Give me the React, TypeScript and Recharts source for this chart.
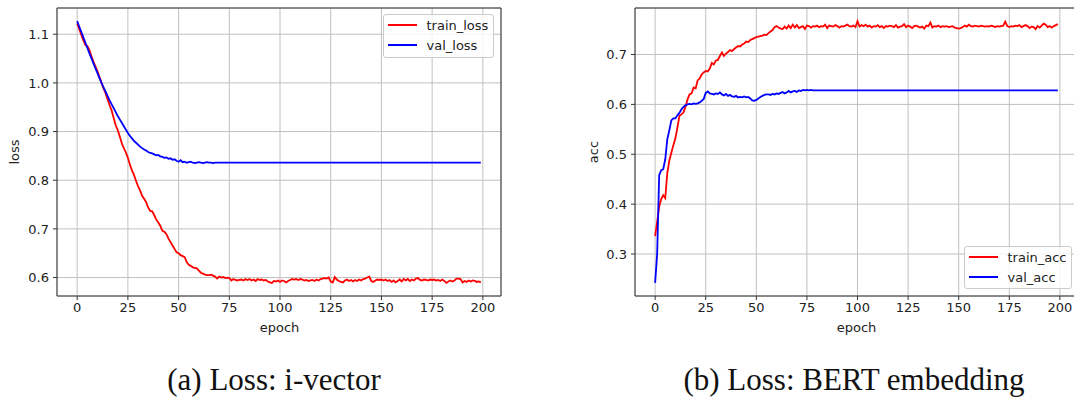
import React from 'react';
import { LineChart, Line, XAxis, YAxis, CartesianGrid, Legend, ReferenceArea } from 'recharts';

// epochs 0..199
const epochs: number[] = Array.from({ length: 200 }, (_, i) => i);

const trainLoss = [
  1.122, 1.111, 1.099, 1.088, 1.078, 1.076, 1.068, 1.055, 1.044, 1.034,
  1.024, 1.012, 1.000, 0.988, 0.979, 0.966, 0.954, 0.943, 0.928, 0.913,
  0.903, 0.890, 0.876, 0.866, 0.857, 0.846, 0.832, 0.820, 0.811, 0.799,
  0.788, 0.779, 0.768, 0.762, 0.755, 0.744, 0.737, 0.736, 0.728, 0.719,
  0.713, 0.706, 0.696, 0.694, 0.689, 0.680, 0.673, 0.666, 0.659, 0.652,
  0.650, 0.646, 0.644, 0.642, 0.632, 0.626, 0.624, 0.621, 0.620, 0.619,
  0.614, 0.610, 0.608, 0.606, 0.605, 0.605, 0.606, 0.604, 0.602, 0.598,
  0.602, 0.600, 0.601, 0.599, 0.600, 0.599, 0.594, 0.597, 0.595, 0.594,
  0.595, 0.596, 0.594, 0.597, 0.595, 0.597, 0.594, 0.596, 0.593, 0.597,
  0.595, 0.596, 0.594, 0.595, 0.592, 0.590, 0.589, 0.593, 0.592, 0.594,
  0.591, 0.594, 0.593, 0.590, 0.593, 0.595, 0.597, 0.596, 0.597, 0.595,
  0.597, 0.596, 0.594, 0.595, 0.593, 0.594, 0.595, 0.593, 0.596, 0.594,
  0.597, 0.598, 0.599, 0.598, 0.600, 0.592, 0.590, 0.601, 0.596, 0.593,
  0.591, 0.590, 0.594, 0.596, 0.593, 0.595, 0.592, 0.595, 0.593, 0.596,
  0.594, 0.597, 0.598, 0.600, 0.602, 0.593, 0.591, 0.594, 0.596, 0.595,
  0.596, 0.594, 0.596, 0.593, 0.595, 0.591, 0.594, 0.590, 0.593, 0.596,
  0.592, 0.597, 0.594, 0.597, 0.593, 0.596, 0.594, 0.598, 0.599, 0.595,
  0.594, 0.596, 0.595, 0.594, 0.596, 0.595, 0.596, 0.594, 0.595, 0.593,
  0.596, 0.593, 0.589, 0.592, 0.594, 0.592, 0.594, 0.598, 0.598, 0.597,
  0.590, 0.593, 0.591, 0.594, 0.592, 0.594, 0.593, 0.591, 0.592, 0.590,
];

const valLoss = [
  1.127, 1.116, 1.105, 1.094, 1.083, 1.072, 1.061, 1.051, 1.040, 1.030,
  1.020, 1.010, 1.000, 0.991, 0.982, 0.973, 0.964, 0.956, 0.948, 0.940,
  0.932, 0.925, 0.918, 0.911, 0.904, 0.897, 0.891, 0.886, 0.881, 0.877,
  0.873, 0.869, 0.866, 0.863, 0.861, 0.858, 0.856, 0.855, 0.853, 0.851,
  0.852, 0.849, 0.848, 0.846, 0.847, 0.844, 0.845, 0.842, 0.843, 0.840,
  0.838, 0.841, 0.837, 0.838, 0.836, 0.837, 0.838, 0.836, 0.835, 0.836,
  0.837, 0.836, 0.835, 0.836, 0.837, 0.836, 0.836, 0.835, 0.836, 0.836,
  0.836, 0.836, 0.836, 0.836, 0.836, 0.836, 0.836, 0.836, 0.836, 0.836,
  0.836, 0.836, 0.836, 0.836, 0.836, 0.836, 0.836, 0.836, 0.836, 0.836,
  0.836, 0.836, 0.836, 0.836, 0.836, 0.836, 0.836, 0.836, 0.836, 0.836,
  0.836, 0.836, 0.836, 0.836, 0.836, 0.836, 0.836, 0.836, 0.836, 0.836,
  0.836, 0.836, 0.836, 0.836, 0.836, 0.836, 0.836, 0.836, 0.836, 0.836,
  0.836, 0.836, 0.836, 0.836, 0.836, 0.836, 0.836, 0.836, 0.836, 0.836,
  0.836, 0.836, 0.836, 0.836, 0.836, 0.836, 0.836, 0.836, 0.836, 0.836,
  0.836, 0.836, 0.836, 0.836, 0.836, 0.836, 0.836, 0.836, 0.836, 0.836,
  0.836, 0.836, 0.836, 0.836, 0.836, 0.836, 0.836, 0.836, 0.836, 0.836,
  0.836, 0.836, 0.836, 0.836, 0.836, 0.836, 0.836, 0.836, 0.836, 0.836,
  0.836, 0.836, 0.836, 0.836, 0.836, 0.836, 0.836, 0.836, 0.836, 0.836,
  0.836, 0.836, 0.836, 0.836, 0.836, 0.836, 0.836, 0.836, 0.836, 0.836,
  0.836, 0.836, 0.836, 0.836, 0.836, 0.836, 0.836, 0.836, 0.836, 0.836,
];

const trainAcc = [
  0.336, 0.365, 0.395, 0.410, 0.418, 0.412, 0.462, 0.487, 0.503, 0.518,
  0.532, 0.553, 0.577, 0.580, 0.584, 0.595, 0.610, 0.620, 0.622, 0.634,
  0.632, 0.648, 0.652, 0.660, 0.664, 0.667, 0.666, 0.672, 0.683, 0.680,
  0.688, 0.689, 0.697, 0.704, 0.697, 0.702, 0.705, 0.709, 0.707, 0.711,
  0.714, 0.717, 0.716, 0.720, 0.722, 0.726, 0.725, 0.729, 0.731, 0.733,
  0.735, 0.736, 0.737, 0.738, 0.740, 0.739, 0.743, 0.746, 0.749, 0.755,
  0.757, 0.754, 0.752, 0.751, 0.756, 0.752, 0.758, 0.753, 0.760, 0.754,
  0.759, 0.753, 0.755, 0.757, 0.751, 0.758, 0.757, 0.754, 0.757, 0.756,
  0.758, 0.755, 0.757, 0.756, 0.760, 0.753, 0.758, 0.757, 0.756, 0.759,
  0.757, 0.754, 0.757, 0.756, 0.758, 0.760, 0.757, 0.756, 0.758, 0.755,
  0.767, 0.756, 0.759, 0.757, 0.760, 0.756, 0.758, 0.754, 0.757, 0.756,
  0.759, 0.755, 0.757, 0.753, 0.757, 0.756, 0.758, 0.757, 0.755, 0.759,
  0.754, 0.756, 0.757, 0.761, 0.755, 0.758, 0.756, 0.753, 0.757, 0.758,
  0.756, 0.754, 0.756, 0.752, 0.758, 0.757, 0.764, 0.754, 0.757, 0.756,
  0.758, 0.755, 0.757, 0.756, 0.757, 0.755, 0.756, 0.757, 0.754, 0.753,
  0.752, 0.753, 0.755, 0.758, 0.756, 0.760, 0.757, 0.756, 0.758, 0.757,
  0.756, 0.758, 0.757, 0.756, 0.757, 0.756, 0.758, 0.757, 0.755, 0.757,
  0.756, 0.757, 0.758, 0.766, 0.757, 0.755, 0.757, 0.756, 0.758, 0.757,
  0.759, 0.755, 0.757, 0.759, 0.757, 0.753, 0.756, 0.755, 0.751, 0.757,
  0.754, 0.758, 0.762, 0.760, 0.755, 0.757, 0.754, 0.757, 0.759, 0.761,
];

const valAcc = [
  0.242, 0.300, 0.458, 0.468, 0.470, 0.490, 0.530, 0.548, 0.568, 0.572,
  0.572, 0.578, 0.583, 0.590, 0.595, 0.598, 0.600, 0.601, 0.600, 0.602,
  0.601, 0.602, 0.604, 0.607, 0.611, 0.623, 0.626, 0.622, 0.621, 0.620,
  0.622, 0.621, 0.624, 0.620, 0.618, 0.621, 0.617, 0.619, 0.616, 0.615,
  0.617, 0.614, 0.615, 0.614, 0.616, 0.614, 0.615, 0.612, 0.608, 0.607,
  0.609, 0.612, 0.615, 0.617, 0.619, 0.620, 0.620, 0.619, 0.621, 0.620,
  0.622, 0.621, 0.623, 0.625, 0.622, 0.624, 0.627, 0.624, 0.626, 0.627,
  0.625, 0.628, 0.627, 0.629, 0.628, 0.629, 0.628, 0.629, 0.628, 0.628,
  0.628, 0.628, 0.628, 0.628, 0.628, 0.628, 0.628, 0.628, 0.628, 0.628,
  0.628, 0.628, 0.628, 0.628, 0.628, 0.628, 0.628, 0.628, 0.628, 0.628,
  0.628, 0.628, 0.628, 0.628, 0.628, 0.628, 0.628, 0.628, 0.628, 0.628,
  0.628, 0.628, 0.628, 0.628, 0.628, 0.628, 0.628, 0.628, 0.628, 0.628,
  0.628, 0.628, 0.628, 0.628, 0.628, 0.628, 0.628, 0.628, 0.628, 0.628,
  0.628, 0.628, 0.628, 0.628, 0.628, 0.628, 0.628, 0.628, 0.628, 0.628,
  0.628, 0.628, 0.628, 0.628, 0.628, 0.628, 0.628, 0.628, 0.628, 0.628,
  0.628, 0.628, 0.628, 0.628, 0.628, 0.628, 0.628, 0.628, 0.628, 0.628,
  0.628, 0.628, 0.628, 0.628, 0.628, 0.628, 0.628, 0.628, 0.628, 0.628,
  0.628, 0.628, 0.628, 0.628, 0.628, 0.628, 0.628, 0.628, 0.628, 0.628,
  0.628, 0.628, 0.628, 0.628, 0.628, 0.628, 0.628, 0.628, 0.628, 0.628,
  0.628, 0.628, 0.628, 0.628, 0.628, 0.628, 0.628, 0.628, 0.628, 0.628,
];

const epochTicks = [0, 25, 50, 75, 100, 125, 150, 175, 200];
const lossTicks = [0.6, 0.7, 0.8, 0.9, 1.0, 1.1];
const accTicks = [0.3, 0.4, 0.5, 0.6, 0.7];

const xDomain: [number, number] = [-9.95, 208.95];
const lossDomain: [number, number] = [0.5621, 1.1539];
const accDomain: [number, number] = [0.2158, 0.7933];

const RED = '#ff0000';
const BLUE = '#0000ff';
const seriesColor: Record<string, string> = {
  train_loss: RED,
  val_loss: BLUE,
  train_acc: RED,
  val_acc: BLUE,
};

const lossData = epochs.map((e, i) => ({ epoch: e, train_loss: trainLoss[i], val_loss: valLoss[i] }));
const accData = epochs.map((e, i) => ({ epoch: e, train_acc: trainAcc[i], val_acc: valAcc[i] }));

const SANS = '"DejaVu Sans", sans-serif';
const tickStyle = { fontFamily: SANS, fontSize: 13, fill: '#222' };

const MplLegend = ({ payload }: any) => (
  <div
    style={{
      background: 'rgba(255,255,255,0.8)',
      border: '1px solid #cccccc',
      borderRadius: 3,
      boxSizing: 'border-box',
      height: '100%',
    }}
  >
    {(payload || []).map((p: any) => (
      <div key={p.value} style={{ display: 'flex', alignItems: 'center', height: 20 }}>
        <span style={{ display: 'inline-block', width: 29, borderTop: `2px solid ${seriesColor[p.value] || p.color}`, marginLeft: 4, marginRight: 9.5 }} />
        <span style={{ fontFamily: SANS, fontSize: 13, color: '#222', lineHeight: '15px' }}>{p.value}</span>
      </div>
    ))}
  </div>
);

const textAbs = (x: number, y: number, rotate = false): React.CSSProperties => ({
  position: 'absolute',
  left: x - 60,
  top: y - 8,
  width: 120,
  height: 16,
  lineHeight: '16px',
  textAlign: 'center',
  fontFamily: SANS,
  fontSize: 13,
  color: '#222',
  transform: rotate ? 'rotate(-90deg)' : undefined,
});

const captionStyle = (cx: number): React.CSSProperties => ({
  position: 'absolute',
  left: cx - 250,
  top: 362,
  width: 500,
  textAlign: 'center',
  fontFamily: '"Liberation Serif", serif',
  fontSize: 31,
  lineHeight: '36px',
  color: '#111',
});

export default function App() {
  return (
    <div style={{ position: 'absolute', left: 0, top: 0, width: 1074, height: 401, overflow: 'hidden', background: '#fff' }}>
      <div style={{ position: 'absolute', left: 0, top: 0 }}>
        <LineChart width={520} height={340} data={lossData} margin={{ top: 8, right: 19, bottom: 0, left: 0 }}>
          <CartesianGrid stroke="#c0c0c0" strokeWidth={1} />
          <XAxis dataKey="epoch" type="number" domain={xDomain} ticks={epochTicks} interval={0} height={44}
            axisLine={false} tickSize={4} tickMargin={3} stroke="#333" tick={tickStyle} />
          <YAxis type="number" domain={lossDomain} ticks={lossTicks} interval={0} width={57}
            axisLine={false} tickSize={4} tickMargin={4} stroke="#333" tick={tickStyle}
            tickFormatter={(v: number) => v.toFixed(1)} />
          <Line dataKey="train_loss" name="train_loss" stroke={RED} strokeWidth={1.8} dot={false} isAnimationActive={false} />
          <Line dataKey="val_loss" name="val_loss" stroke={BLUE} strokeWidth={1.8} dot={false} isAnimationActive={false} />
          <ReferenceArea x1={xDomain[0]} x2={xDomain[1]} y1={lossDomain[0]} y2={lossDomain[1]} fill="none" stroke="#333" strokeWidth={1} ifOverflow="visible" />
          <Legend layout="vertical" align="center" verticalAlign="middle" content={<MplLegend />}
            wrapperStyle={{ left: 383, top: 14, width: 111, height: 44 }} />
        </LineChart>
      </div>
      <div style={{ position: 'absolute', left: 577, top: 0 }}>
        <LineChart width={501} height={340} data={accData} margin={{ top: 8, right: 0, bottom: 0, left: 0 }}>
          <CartesianGrid stroke="#c0c0c0" strokeWidth={1} />
          <XAxis dataKey="epoch" type="number" domain={xDomain} ticks={epochTicks} interval={0} height={44}
            axisLine={false} tickSize={4} tickMargin={3} stroke="#333" tick={tickStyle} />
          <YAxis type="number" domain={accDomain} ticks={accTicks} interval={0} width={58}
            axisLine={false} tickSize={4} tickMargin={4} stroke="#333" tick={tickStyle}
            tickFormatter={(v: number) => v.toFixed(1)} />
          <Line dataKey="train_acc" name="train_acc" stroke={RED} strokeWidth={1.8} dot={false} isAnimationActive={false} />
          <Line dataKey="val_acc" name="val_acc" stroke={BLUE} strokeWidth={1.8} dot={false} isAnimationActive={false} />
          <ReferenceArea x1={xDomain[0]} x2={xDomain[1]} y1={accDomain[0]} y2={accDomain[1]} fill="none" stroke="#333" strokeWidth={1} ifOverflow="visible" />
          <Legend layout="vertical" align="center" verticalAlign="middle" content={<MplLegend />}
            wrapperStyle={{ left: 387, top: 246, width: 108, height: 43 }} />
        </LineChart>
      </div>

      <div style={textAbs(279.5, 328)}>epoch</div>
      <div style={textAbs(15, 152, true)}>loss</div>
      <div style={textAbs(856.5, 328)}>epoch</div>
      <div style={textAbs(593.5, 152, true)}>acc</div>

      <div style={captionStyle(274)}>(a) Loss: i-vector</div>
      <div style={captionStyle(854)}>(b) Loss: BERT embedding</div>
    </div>
  );
}
